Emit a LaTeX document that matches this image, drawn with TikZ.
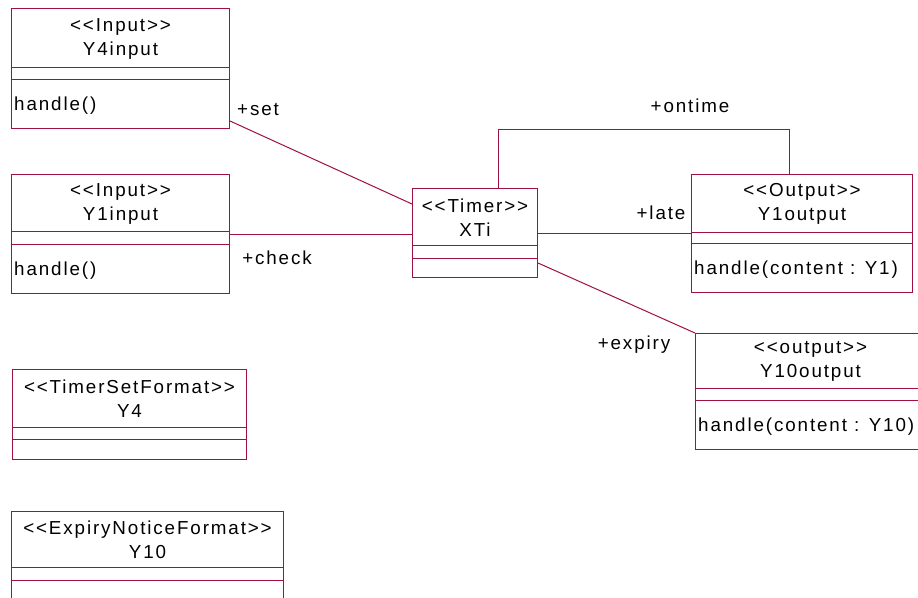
\documentclass[tikz,border=0pt]{standalone}
\usepackage{fontspec}
\setmainfont{Liberation Sans}[LetterSpace=10]
\usetikzlibrary{calc}
\definecolor{umlred}{RGB}{160,16,64}
\tikzset{
  umlline/.style={draw=umlred, line width=1pt},
  classbox/.style={draw=umlred, line width=1pt, rectangle, inner sep=0pt, anchor=north west, fill=white},
  headtext/.style={align=center, inner sep=0pt, font=\fontsize{18.8}{24}\selectfont},
  optext/.style={anchor=west, inner sep=0pt, font=\fontsize{18.8}{24}\selectfont},
  rolelabel/.style={inner sep=0pt, font=\fontsize{18.8}{24}\selectfont},
}
\newcommand\umlclassbox[9]{%
  \node[classbox, minimum width=#4pt, minimum height=#7pt] (#1) at (#2,#3) {};
  \draw[umlline] ([yshift=-#5pt]#1.north west) -- ([yshift=-#5pt]#1.north east);
  \draw[umlline] ([yshift=-#6pt]#1.north west) -- ([yshift=-#6pt]#1.north east);
  \node[headtext] (#1-head) at ([yshift={-(#5)/2*1pt-1pt}]#1.north) {#8};
  \node[optext] (#1-op) at ([xshift=3pt,yshift={-(#6+#7)/2*1pt-2pt}]#1.north west) {#9};
}
\begin{document}
\begin{tikzpicture}[x=1pt,y=-1pt]
\clip (0,0) rectangle (918,597);
\fill[white] (0,0) rectangle (918,597);
\umlclassbox{y4in}{11}{8}{218}{59}{71}{120}{<{}<Input>{}>\\Y4input}{handle()}
\umlclassbox{y1in}{11}{174}{218}{57}{70}{119}{<{}<Input>{}>\\Y1input}{handle()}
\umlclassbox{xti}{412}{188}{125}{57}{70}{89}{<{}<Timer>{}>\\XTi}{}
\umlclassbox{y1out}{691}{174}{221}{58}{69}{118}{<{}<Output>{}>\\Y1output}{handle(content : Y1)}
\umlclassbox{y10out}{695}{333}{230}{55}{67}{116}{<{}<output>{}>\\Y10output}{handle(content : Y10)}
\umlclassbox{y4}{12}{369}{234}{58}{70}{90}{<{}<TimerSetFormat>{}>\\Y4}{}
\umlclassbox{y10}{11}{511}{272}{56}{69}{100}{<{}<ExpiryNoticeFormat>{}>\\Y10}{}
% connectors
\draw[umlline] ([yshift=8pt]y4in.south east) -- ([yshift=-16pt]xti.north west);
\draw[umlline] (y1in.east) -- (y1in.east -| xti.west);
\draw[umlline] (xti.east) -- (xti.east -| y1out.west);
\draw[umlline] ([xshift=23.5pt]xti.north) -- ++(0,-59) -| ([xshift=-12.5pt]y1out.north);
\draw[umlline] ([yshift=15pt]xti.south east) -- (y10out.north west);
% role labels
\node[rolelabel] (lset) at (258,110) {+set};
\node[rolelabel] (lcheck) at (277,258) {+check};
\node[rolelabel] (lontime) at (690,106) {+ontime};
\node[rolelabel] (llate) at (661,213) {+late};
\node[rolelabel] (lexpiry) at (634,345) {+expiry};
\end{tikzpicture}
\end{document}
